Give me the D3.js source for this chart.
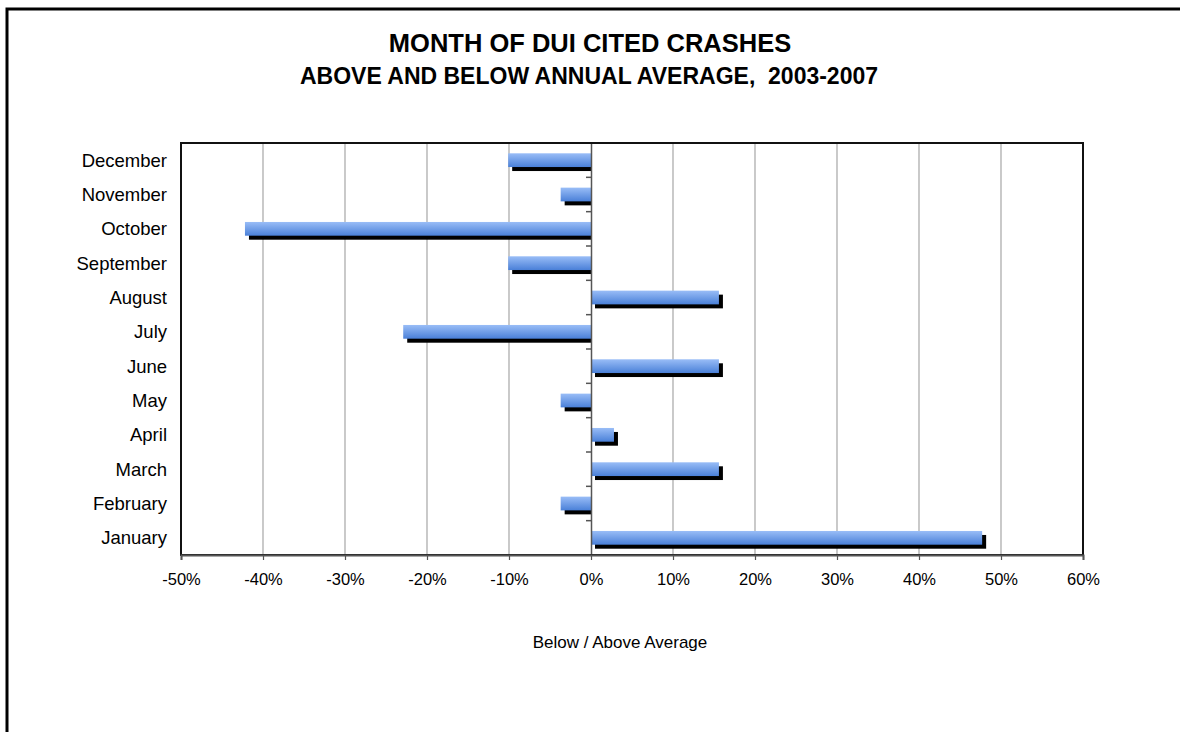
<!DOCTYPE html>
<html lang="en">
<head>
<meta charset="utf-8">
<title>Month of DUI Cited Crashes</title>
<script src="https://d3js.org/d3.v7.min.js"></script>
<style>
  body { margin: 0; background: #fff; }
  text { font-family: "Liberation Sans", Arial, sans-serif; fill: #000; }
  .title { font-size: 25.5px; font-weight: bold; }
  .subtitle { font-size: 23px; font-weight: bold; white-space: pre; }
  .cat { font-size: 18.5px; }
  .axis-title { font-size: 17px; }
</style>
</head>
<body>
<div id="chart"></div>
<script>
const months = ["January", "February", "March", "April", "May", "June",
                "July", "August", "September", "October", "November", "December"];
const values = [47.7, -3.7, 15.6, 2.8, -3.7, 15.6, -22.9, 15.6, -10.1, -42.2, -3.7, -10.1];
const xTicks = [-50, -40, -30, -20, -10, 0, 10, 20, 30, 40, 50, 60];

const w = 1180, h = 732;
const plot = {left: 181, top: 143, right: 1083, bottom: 555};
const shadow = 4;

const svg = d3.select("#chart").append("svg")
  .attr("width", w).attr("height", h);

const defs = svg.append("defs");
const grad = defs.append("linearGradient")
  .attr("id", "barGrad").attr("x1", 0).attr("y1", 0).attr("x2", 0).attr("y2", 1);
grad.append("stop").attr("offset", "0%").attr("stop-color", "#99bdf7");
grad.append("stop").attr("offset", "100%").attr("stop-color", "#4a80d8");

// outer chart frame
svg.append("rect")
  .attr("x", 7).attr("y", 9).attr("width", 1300).attr("height", 900)
  .attr("fill", "none").attr("stroke", "#000").attr("stroke-width", 3);

svg.append("text").attr("class", "title")
  .attr("x", 590).attr("y", 52).attr("text-anchor", "middle")
  .text("MONTH OF DUI CITED CRASHES");
svg.append("text").attr("class", "subtitle")
  .attr("x", 589).attr("y", 84).attr("text-anchor", "middle")
  .text("ABOVE AND BELOW ANNUAL AVERAGE,  2003-2007");

const x = d3.scaleLinear().domain([-50, 60]).range([plot.left, plot.right]);
const y = d3.scaleBand().domain(months.slice().reverse())
  .range([plot.top, plot.bottom]).paddingInner(0.6).paddingOuter(0.3);
const yb = d3.scaleBand().domain(months.slice().reverse())
  .range([plot.top, plot.bottom]);

// gridlines
svg.append("g").selectAll("line")
  .data(xTicks.filter(t => t !== -50 && t !== 60 && t !== 0))
  .join("line")
  .attr("x1", d => x(d)).attr("x2", d => x(d))
  .attr("y1", plot.top).attr("y2", plot.bottom)
  .attr("stroke", "#a6a6a6").attr("stroke-width", 1.2);

const data = months.map((m, i) => ({month: m, value: values[i]}));

// shadows (offset down-right, cut at the zero line for negative bars)
svg.append("g").selectAll("rect")
  .data(data).join("rect")
  .attr("x", d => Math.min(x(0), x(d.value)) + shadow)
  .attr("y", d => y(d.month) + shadow)
  .attr("width", d => Math.abs(x(d.value) - x(0)) - (d.value < 0 ? shadow : 0))
  .attr("height", y.bandwidth())
  .attr("fill", "#000");

// bars
svg.append("g").selectAll("rect")
  .data(data).join("rect")
  .attr("x", d => Math.min(x(0), x(d.value)))
  .attr("y", d => y(d.month))
  .attr("width", d => Math.abs(x(d.value) - x(0)))
  .attr("height", y.bandwidth())
  .attr("fill", "url(#barGrad)");

// zero axis with category ticks
const zeroAxis = svg.append("g")
  .attr("transform", `translate(${x(0)},0)`)
  .call(d3.axisLeft(yb).tickSize(0).tickFormat(""));
zeroAxis.select(".domain").attr("stroke", "#555").attr("stroke-width", 1.5);
zeroAxis.selectAll(".bnd").data(months.slice(1))
  .join("line").attr("class", "bnd")
  .attr("x1", -5).attr("x2", 0)
  .attr("y1", d => yb(d) + yb.bandwidth()).attr("y2", d => yb(d) + yb.bandwidth())
  .attr("stroke", "#555").attr("stroke-width", 1.5);

// plot frame
svg.append("rect")
  .attr("x", plot.left).attr("y", plot.top)
  .attr("width", plot.right - plot.left).attr("height", plot.bottom - plot.top)
  .attr("fill", "none").attr("stroke", "#111").attr("stroke-width", 2);

// bottom axis
const xAxis = svg.append("g")
  .attr("transform", `translate(0,${plot.bottom})`)
  .call(d3.axisBottom(x).tickValues(xTicks).tickSize(5).tickPadding(13)
    .tickFormat(d => d + "%"));
xAxis.select(".domain").attr("stroke", "#555").attr("stroke-width", 2);
xAxis.selectAll(".tick line").attr("stroke", "#555").attr("stroke-width", 1.2);
xAxis.selectAll(".tick text")
  .style("font-family", "'Liberation Sans', Arial, sans-serif").style("font-size", "16.5px")
  .attr("fill", "#000");

// category labels
svg.append("g").selectAll("text")
  .data(months).join("text").attr("class", "cat")
  .attr("x", 167)
  .attr("y", d => yb(d) + yb.bandwidth() / 2)
  .attr("dy", "0.35em")
  .attr("text-anchor", "end")
  .text(d => d);

svg.append("text").attr("class", "axis-title")
  .attr("x", 620).attr("y", 648).attr("text-anchor", "middle")
  .text("Below / Above Average");
</script>
</body>
</html>
